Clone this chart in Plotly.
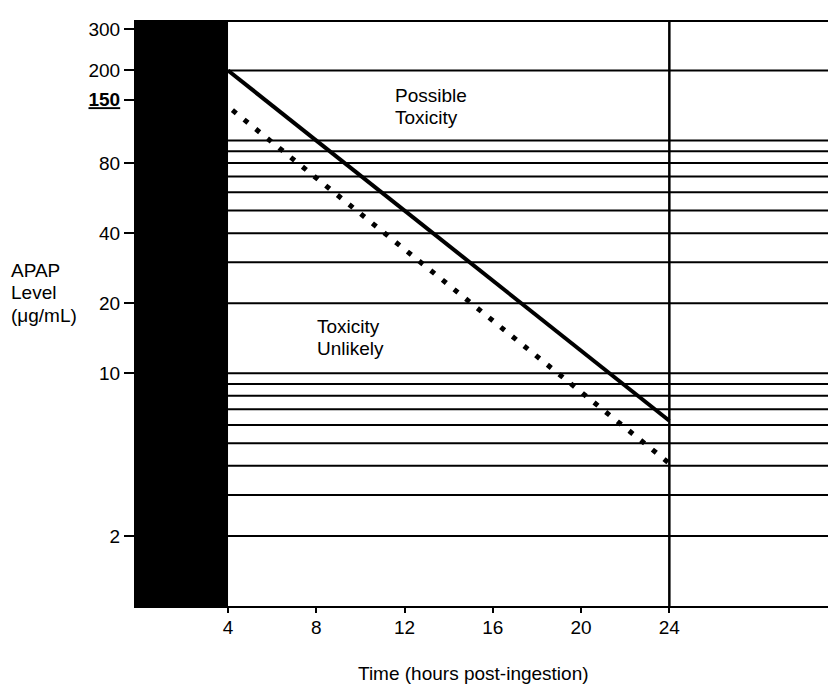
import plotly.graph_objects as go
import numpy as np

# Nomogram data: hours post-ingestion vs. APAP level (µg/mL)
treatment_hours = [4, 24]
treatment_level = [200, 6.25]          # solid line
lower_hours = [4.2, 24]
lower_level = [135, 4.1]               # dotted line

level_lines = [200, 100, 90, 80, 70, 60, 50, 40, 30, 20, 10, 9, 8, 7, 6, 5, 4, 3, 2]
y_tickvals = [300, 200, 150, 80, 40, 20, 10, 2]
y_ticktext = ["300", "200", "<b><u>150</u></b>", "80", "40", "20", "10", "2"]
x_tickvals = [4, 8, 12, 16, 20, 24]

X_MIN, X_MAX = -0.17, 31.19
Y_MIN, Y_MAX = 1.0, 323.0
BLOCK_END = 4
CUTOFF_HOUR = 24

W, H = 828, 684
M_L, M_R, M_T, M_B = 136, 0, 22, 78
PLOT_W, PLOT_H = W - M_L - M_R, H - M_T - M_B

FONT = "Liberation Sans, Arial, Helvetica, sans-serif"
FS = 19


def px_to_paper(px, py):
    """Convert a pixel position on the page into paper coordinates."""
    return (px - M_L) / PLOT_W, (H - M_B - py) / PLOT_H


fig = go.Figure()

# horizontal reference lines from 4 h to the right edge
gx, gy = [], []
for v in level_lines:
    gx += [BLOCK_END, X_MAX, None]
    gy += [v, v, None]
fig.add_trace(go.Scatter(x=gx, y=gy, mode="lines",
                         line=dict(color="black", width=2),
                         hoverinfo="skip", showlegend=False))

fig.add_trace(go.Scatter(x=treatment_hours, y=treatment_level, mode="lines",
                         line=dict(color="black", width=4),
                         showlegend=False))
fig.add_trace(go.Scatter(x=lower_hours, y=lower_level, mode="lines",
                         line=dict(color="black", width=5, dash="5px,10px"),
                         showlegend=False))

# black block for the first four hours
fig.add_shape(type="rect", xref="x", yref="paper",
              x0=X_MIN, x1=BLOCK_END, y0=0, y1=1,
              fillcolor="black", line=dict(width=0), layer="above")
fig.add_vline(x=CUTOFF_HOUR, line=dict(color="black", width=2.5))


def text_block(lines, left_px, first_center_px, pitch=22.7):
    for i, line in enumerate(lines):
        xp, yp = px_to_paper(left_px, first_center_px + i * pitch)
        fig.add_annotation(x=xp, y=yp, xref="paper", yref="paper",
                           text=line, showarrow=False,
                           xanchor="left", yanchor="middle",
                           font=dict(family=FONT, size=FS, color="black"))


text_block(["Possible", "Toxicity"], 393, 95)
text_block(["Toxicity", "Unlikely"], 315, 326)
text_block(["APAP", "Level", "(μg/mL)"], 9, 270)

tx, ty = px_to_paper(473, 673)
fig.add_annotation(x=tx, y=ty, xref="paper", yref="paper",
                   text="Time (hours post-ingestion)", showarrow=False,
                   xanchor="center", yanchor="middle",
                   font=dict(family=FONT, size=FS, color="black"))

fig.update_layout(
    width=W, height=H,
    margin=dict(l=M_L, r=M_R, t=M_T, b=M_B),
    plot_bgcolor="white", paper_bgcolor="white",
    font=dict(family=FONT, size=FS, color="black"),
    xaxis=dict(range=[X_MIN, X_MAX], tickvals=x_tickvals,
               showgrid=False, zeroline=False,
               showline=True, linecolor="black", linewidth=2, mirror=True,
               ticks="outside", ticklen=5, tickwidth=2, tickcolor="black",
               ticklabelstandoff=-2),
    yaxis=dict(type="log", range=[np.log10(Y_MIN), np.log10(Y_MAX)],
               tickvals=y_tickvals, ticktext=y_ticktext,
               showgrid=False, zeroline=False,
               showline=True, linecolor="black", linewidth=2,
               ticks="outside", ticklen=10, tickwidth=2, tickcolor="black"),
)

fig.write_html("out.html")
